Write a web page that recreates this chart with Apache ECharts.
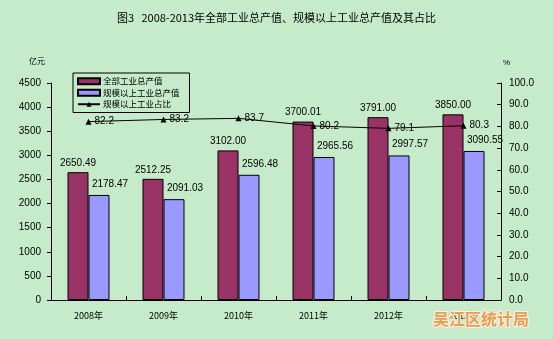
<!DOCTYPE html>
<html>
<head>
<meta charset="utf-8">
<style>
  html, body { margin: 0; padding: 0; background: #c6ebcb; }
  #chart { width: 553px; height: 339px; }
</style>
<script src="https://cdn.jsdelivr.net/npm/echarts@6/dist/echarts.min.js"></script>
</head>
<body>
<div id="chart"></div>
<script>
// Industrial output of Wujiang district, 2008-2013
const years = ['2008年', '2009年', '2010年', '2011年', '2012年', '2013年'];
const totalOutput = [2650.49, 2512.25, 3102.00, 3700.01, 3791.00, 3850.00];
const aboveScaleOutput = [2178.47, 2091.03, 2596.48, 2965.56, 2997.57, 3090.55];
const aboveScaleShare = [82.2, 83.2, 83.7, 80.2, 79.1, 80.3];
const leftTicks = { min: 0, max: 4500, interval: 500 };
const rightTicks = { min: 0, max: 100, interval: 10 };

const numFont = '"Liberation Sans", Arial, sans-serif';
const cjkFont = '"Noto Sans CJK SC", "Liberation Sans", sans-serif';

const chart = echarts.init(document.getElementById('chart'));
chart.setOption({
  backgroundColor: '#c6ebcb',
  animation: false,
  title: {
    text: '图3   2008-2013年全部工业总产值、规模以上工业总产值及其占比',
    left: 'center',
    top: 7,
    textStyle: { fontFamily: cjkFont, fontSize: 11, fontWeight: 'normal', color: '#000' }
  },
  legend: {
    orient: 'vertical',
    left: 73,
    top: 73,
    padding: [4, 10, 4, 4],
    itemGap: 3,
    itemWidth: 22,
    itemHeight: 6,
    borderColor: '#000',
    borderWidth: 1,
    textStyle: { fontFamily: cjkFont, fontSize: 8.5, color: '#000', padding: [0, 0, 0, -2] },
    data: [
      { name: '全部工业总产值', icon: 'rect' },
      { name: '规模以上工业总产值', icon: 'rect' },
      { name: '规模以上工业占比' }
    ]
  },
  grid: { left: 51, right: 52, top: 83, bottom: 39 },
  xAxis: {
    type: 'category',
    data: years,
    axisLine: { lineStyle: { color: '#000', width: 1 } },
    axisTick: { show: true, inside: true, length: 4, lineStyle: { color: '#000' } },
    axisLabel: { fontFamily: cjkFont, fontSize: 9, color: '#000', margin: 11 }
  },
  yAxis: [
    {
      type: 'value',
      name: '亿元',
      nameLocation: 'end',
      nameGap: 18,
      nameTextStyle: { fontFamily: cjkFont, fontSize: 8, color: '#000', align: 'right', padding: [0, 6, 0, 0] },
      min: leftTicks.min, max: leftTicks.max, interval: leftTicks.interval,
      axisLine: { show: true, lineStyle: { color: '#000' } },
      axisTick: { show: true, length: 4, lineStyle: { color: '#000' } },
      axisLabel: { fontFamily: numFont, fontSize: 10, color: '#000', margin: 10,
        formatter: v => String(v) },
      splitLine: { show: false }
    },
    {
      type: 'value',
      name: '%',
      nameLocation: 'end',
      nameGap: 16,
      nameTextStyle: { fontFamily: numFont, fontSize: 8, color: '#000', align: 'left', padding: [0, 0, 0, 2] },
      min: rightTicks.min, max: rightTicks.max, interval: rightTicks.interval,
      axisLine: { show: true, lineStyle: { color: '#000' } },
      axisTick: { show: true, inside: true, length: 4, lineStyle: { color: '#000' } },
      axisLabel: { fontFamily: numFont, fontSize: 10, color: '#000', margin: 8,
        formatter: v => v.toFixed(1) },
      splitLine: { show: false }
    }
  ],
  series: [
    {
      name: '全部工业总产值',
      type: 'bar',
      data: totalOutput,
      barWidth: 21,
      barGap: '0%',
      itemStyle: { color: '#993366', borderColor: '#000', borderWidth: 1 },
      label: {
        show: true, position: 'top', distance: 4,
        fontFamily: numFont, fontSize: 10, color: '#000',
        formatter: p => p.value.toFixed(2)
      }
    },
    {
      name: '规模以上工业总产值',
      type: 'bar',
      data: aboveScaleOutput,
      barWidth: 21,
      barGap: '0%',
      itemStyle: { color: '#9999ff', borderColor: '#000', borderWidth: 1 },
      label: {
        show: true, position: 'top', distance: 6, offset: [11, 0],
        fontFamily: numFont, fontSize: 10, color: '#000',
        formatter: p => p.value.toFixed(2)
      }
    },
    {
      name: '规模以上工业占比',
      type: 'line',
      yAxisIndex: 1,
      data: aboveScaleShare,
      symbol: 'triangle',
      symbolSize: 6,
      lineStyle: { color: '#000', width: 1 },
      itemStyle: { color: '#000' },
      label: {
        show: true, position: 'right', distance: 3,
        fontFamily: numFont, fontSize: 10, color: '#000',
        formatter: p => p.value.toFixed(1)
      },
      z: 5
    }
  ],
  graphic: [
    {
      type: 'text',
      left: 432,
      top: 310,
      z: 100,
      style: {
        text: '吴江区统计局',
        fontFamily: cjkFont,
        fontSize: 16,
        fontWeight: 'bold',
        fill: '#ee9a50',
        stroke: '#fff3e0',
        lineWidth: 2,
        shadowColor: 'rgba(90,90,90,0.6)',
        shadowBlur: 2,
        shadowOffsetX: 1,
        shadowOffsetY: 1
      }
    }
  ]
});
</script>
</body>
</html>
